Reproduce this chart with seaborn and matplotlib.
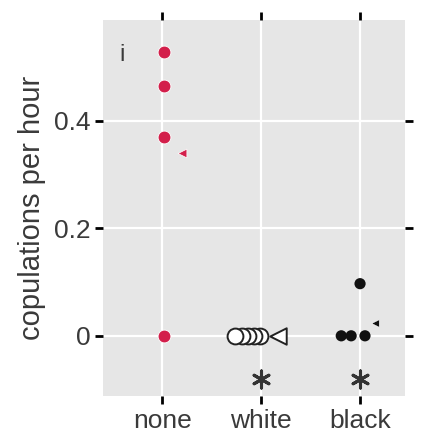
import matplotlib
matplotlib.use("Agg")
import matplotlib.pyplot as plt
import seaborn as sns
import pandas as pd
import numpy as np

groups = ["none", "white", "black"]

# circles (rate, horizontal jitter)
none_rates = [0.529, 0.464, 0.369, 0.0]
none_jitter = [0.02, 0.02, 0.02, 0.02]
white_rates = [0.0, 0.0, 0.0, 0.0, 0.0]
white_jitter = [-0.01, -0.07, -0.13, -0.19, -0.26]
black_rates = [0.097, 0.0, 0.0, 0.0]
black_jitter = [0.0, -0.19, -0.09, 0.05]

# triangles
none_tri_rates = [0.34]
none_tri_jitter = [0.2]
white_tri_rates = [0.0]
white_tri_jitter = [0.17]
black_tri_rates = [0.024]
black_tri_jitter = [0.15]

signif = ["", "*", "*"]
star_level = -0.08

red = "#d31f4b"
grey_txt = "#3a3a3a"


def frame(group, rates, jitter):
    df = pd.DataFrame({"group": group, "rate": rates, "jitter": jitter})
    df["x"] = groups.index(group) + df["jitter"]
    return df


sns.set_theme(style="darkgrid")
plt.rcParams["font.family"] = ["Liberation Sans", "DejaVu Sans"]

fig = plt.figure(figsize=(4.23, 4.4), dpi=100)
ax = fig.add_axes([0.2435, 0.1, 0.714, 0.855])
ax.set_facecolor("#e6e6e6")

sns.scatterplot(data=frame("none", none_rates, none_jitter), x="x", y="rate",
                color=red, s=85, edgecolor="white", linewidth=0.6, ax=ax, zorder=3)
sns.scatterplot(data=frame("none", none_tri_rates, none_tri_jitter), x="x", y="rate",
                color=red, marker="<", s=40, edgecolor="white", linewidth=0.5, ax=ax, zorder=3)

sns.scatterplot(data=frame("white", white_rates, white_jitter), x="x", y="rate",
                facecolor="white", edgecolor="#222222", s=130, linewidth=1.4, ax=ax, zorder=3)
sns.scatterplot(data=frame("white", white_tri_rates, white_tri_jitter), x="x", y="rate",
                marker="<", facecolor="white", edgecolor="#222222", s=140, linewidth=1.4, ax=ax, zorder=3)

sns.scatterplot(data=frame("black", black_rates, black_jitter), x="x", y="rate",
                color="#111111", s=65, edgecolor="none", ax=ax, zorder=3)
sns.scatterplot(data=frame("black", black_tri_rates, black_tri_jitter), x="x", y="rate",
                color="#111111", marker="<", s=30, edgecolor="white", linewidth=0.4, ax=ax, zorder=3)

for i, s in enumerate(signif):
    if s:
        ax.scatter(i, star_level, marker=(6, 2, 0), s=150, color="#333333",
                   linewidth=2.2, zorder=3)

ax.text(0.055, 0.89, "i", transform=ax.transAxes, fontsize=17, color=grey_txt)

ax.set_xlim(-0.6, 2.455)
ax.set_ylim(-0.112, 0.588)
ax.set_xticks(range(len(groups)))
ax.set_xticklabels(groups)
ax.set_yticks([0, 0.2, 0.4])
ax.set_yticklabels(["0", "0.2", "0.4"])
ax.set_xlabel("")
ax.set_ylabel("copulations per hour", fontsize=21, color=grey_txt, labelpad=6)
ax.grid(True, color="white", linewidth=1.6)
ax.tick_params(axis="both", which="both", top=True, right=True, bottom=True, left=True,
               labeltop=False, labelright=False, length=6, width=2, color="black",
               direction="out", labelsize=19, labelcolor=grey_txt, pad=3)
for sp in ax.spines.values():
    sp.set_visible(False)

fig.savefig("out.png", dpi=100)
